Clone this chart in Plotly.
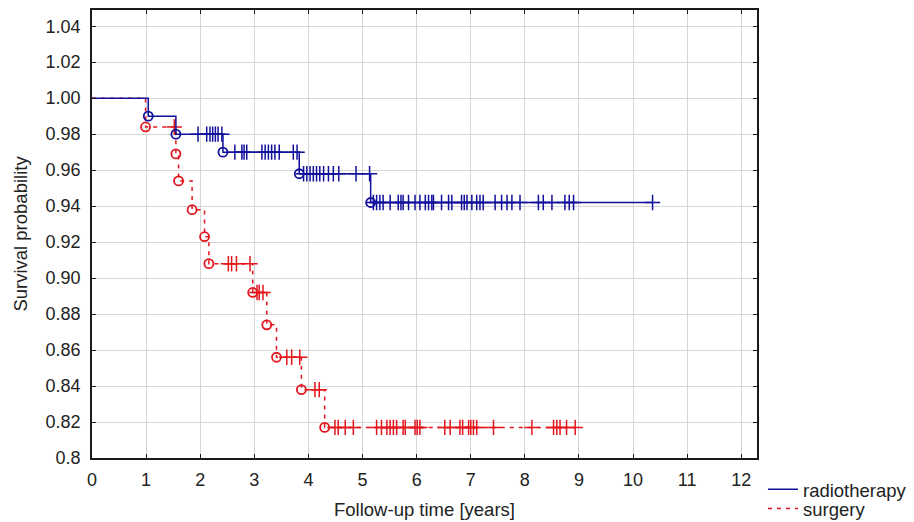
import numpy as np
import plotly.graph_objects as go

# Kaplan-Meier survival estimates by treatment group
# Event times (years) and survival probability after each event
radio_event_t = [1.04, 1.55, 2.42, 3.83, 5.15]
radio_event_s = [0.990, 0.980, 0.970, 0.958, 0.942]
radio_censor_t = [
    1.96, 2.12, 2.18, 2.23, 2.28, 2.33, 2.40,
    2.64, 2.77, 2.81, 2.86, 3.14, 3.20, 3.26, 3.32, 3.38, 3.46, 3.72, 3.79,
    3.91, 3.97, 4.03, 4.09, 4.15, 4.21, 4.28, 4.37, 4.46, 4.56, 4.88, 5.13,
    5.20, 5.26, 5.32, 5.38, 5.51, 5.66, 5.71, 5.75, 5.85, 5.97, 6.06, 6.16,
    6.22, 6.28, 6.31, 6.46, 6.59, 6.65, 6.83, 6.88, 6.93, 7.02, 7.11, 7.17,
    7.23, 7.45, 7.57, 7.67, 7.76, 7.91, 8.25, 8.34, 8.50, 8.74, 8.82, 8.90,
    10.36,
]

surg_event_t = [0.99, 1.55, 1.60, 1.85, 2.08, 2.16, 2.97, 3.23, 3.41, 3.87, 4.30]
surg_event_s = [0.984, 0.969, 0.954, 0.938, 0.923, 0.908, 0.892, 0.874, 0.856, 0.838, 0.817]
surg_censor_t = [
    1.52,
    2.52, 2.58, 2.67, 2.92,
    3.05, 3.09, 3.16,
    3.60, 3.69, 3.84,
    4.12, 4.20,
    4.49, 4.55, 4.68, 4.83, 5.26, 5.35, 5.45, 5.51, 5.57, 5.63, 5.75, 5.79,
    5.97, 6.01, 6.06, 6.52, 6.62, 6.80, 6.85, 6.96, 7.00, 7.05, 7.11, 7.42,
    8.13, 8.53, 8.59, 8.65, 8.77, 8.93,
]

x_ticks = list(range(0, 13))
y_tickvals = [0.80, 0.82, 0.84, 0.86, 0.88, 0.90, 0.92, 0.94, 0.96, 0.98, 1.00, 1.02, 1.04]
y_ticktext = ["0.8", "0.82", "0.84", "0.86", "0.88", "0.90", "0.92", "0.94",
              "0.96", "0.98", "1.00", "1.02", "1.04"]

BLUE = "#10109c"
RED = "#e3161d"
FONT = "Liberation Sans, Arial, sans-serif"
TEXT = "#222222"


def step_path(event_t, event_s, end_t):
    xs = [0.0] + list(event_t) + [end_t]
    ys = [1.0] + list(event_s) + [event_s[-1]]
    return xs, ys


def surv_at(event_t, event_s, t):
    s = 1.0
    for et, es in zip(event_t, event_s):
        if et <= t:
            s = es
    return s


fig = go.Figure()

groups = [
    ("radiotherapy", radio_event_t, radio_event_s, radio_censor_t, BLUE, "solid", "legend"),
    ("surgery", surg_event_t, surg_event_s, surg_censor_t, RED, "4px,5px", "legend2"),
]

# surgery drawn first so the radiotherapy curve sits on top where they overlap
for name, et, es, ct, color, dash, leg in reversed(groups):
    xs, ys = step_path(et, es, max(ct))
    fig.add_trace(go.Scatter(
        x=xs, y=ys, mode="lines", name=name, legend=leg,
        line=dict(color=color, width=1.5, dash=dash, shape="hv"),
    ))
    fig.add_trace(go.Scatter(
        x=ct, y=[surv_at(et, es, t) for t in ct], mode="markers",
        showlegend=False, hoverinfo="skip",
        marker=dict(symbol="cross-thin-open", size=11, color=color,
                    line=dict(color=color, width=1.5)),
    ))
    fig.add_trace(go.Scatter(
        x=et, y=es, mode="markers", showlegend=False, hoverinfo="skip",
        marker=dict(symbol="circle-open", size=9, color=color,
                    line=dict(color=color, width=1.8)),
    ))

axis_common = dict(
    showgrid=True, gridcolor="#d6d6d6", gridwidth=1,
    showline=True, linecolor="#1a1a1a", linewidth=1.6, mirror="ticks",
    ticks="inside", ticklen=4, tickcolor="#1a1a1a",
    zeroline=False, automargin=False,
    tickfont=dict(family=FONT, size=18, color=TEXT),
)

fig.update_xaxes(
    **axis_common,
    range=[0, 12.29], tickvals=x_ticks, ticktext=[str(v) for v in x_ticks],
    ticklabelstandoff=5,
    title=dict(text="Follow-up time [years]", standoff=14,
               font=dict(family=FONT, size=18.5, color=TEXT)),
)
fig.update_yaxes(
    **axis_common,
    range=[0.8, 1.049], tickvals=y_tickvals, ticktext=y_ticktext,
    ticklabelstandoff=6,
    title=dict(text="Survival probability", standoff=13,
               font=dict(family=FONT, size=18.5, color=TEXT)),
)

legend_common = dict(
    x=1.009, xanchor="left", yanchor="middle",
    font=dict(family=FONT, size=18.5, color=TEXT),
    itemwidth=30, bgcolor="rgba(0,0,0,0)",
)

fig.update_layout(
    width=914, height=522,
    margin=dict(l=92, r=157, t=10, b=64, autoexpand=False),
    paper_bgcolor="white", plot_bgcolor="white",
    showlegend=True,
    legend=dict(**legend_common, y=-0.071),
    legend2=dict(**legend_common, y=-0.114),
)

fig.write_html("out.html")
